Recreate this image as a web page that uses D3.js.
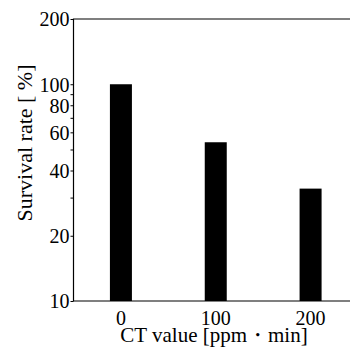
<!DOCTYPE html>
<meta charset="utf-8">
<style>
body { margin: 0; background: #fff; }
text { font-family: "Liberation Serif", "Times New Roman", serif; fill: #000; }
</style>
<svg width="350" height="349"></svg>
<script src="https://d3js.org/d3.v7.min.js"></script>
<script>
var ctValues = [0, 100, 200];
var survival = [100, 54, 33];
var majorTicks = [10, 20, 40, 60, 80, 100, 200];
var minorTicks = [30, 50, 70, 90];

var svg = d3.select("svg"),
    mLeft = 73.5, mRight = 358, mTop = 19, mBottom = 301;

var x = d3.scaleLinear().domain([-50, 250]).range([mLeft, mRight]);
var y = d3.scaleLog().domain([10, 200]).range([mBottom, mTop]);

// bars
svg.append("g")
  .selectAll("rect")
  .data(ctValues)
  .enter().append("rect")
    .attr("x", function(d) { return x(d) - 11; })
    .attr("width", 22)
    .attr("y", function(d, i) { return y(survival[i]); })
    .attr("height", function(d, i) { return mBottom - y(survival[i]); })
    .attr("fill", "#000");

// frame
svg.append("path")
    .attr("d", "M" + mRight + "," + mTop + "H" + mLeft + "V" + mBottom + "H" + mRight)
    .attr("fill", "none")
    .attr("stroke", "#000")
    .attr("stroke-width", 1.2);

// y axis
var yAxis = svg.append("g")
    .attr("transform", "translate(" + mLeft + ",0)")
    .call(d3.axisLeft(y).tickValues(majorTicks).tickFormat(d3.format("d")).tickSize(3).tickPadding(1));
yAxis.select(".domain").remove();
yAxis.selectAll("text").style("font-size", "20px").attr("dy", "0.34em");

svg.append("g")
    .attr("transform", "translate(" + mLeft + ",0)")
    .call(d3.axisLeft(y).tickValues(minorTicks).tickFormat("").tickSize(3))
    .select(".domain").remove();

// x labels
svg.append("g")
  .selectAll("text")
  .data(ctValues)
  .enter().append("text")
    .attr("x", function(d) { return x(d); })
    .attr("y", 325)
    .attr("text-anchor", "middle")
    .style("font-size", "20px")
    .text(function(d) { return d; });

svg.append("text")
    .attr("x", 214)
    .attr("y", 342)
    .attr("text-anchor", "middle")
    .style("font-size", "21px")
    .text("CT value [ppm・min]");

svg.append("text")
    .attr("transform", "translate(32,143) rotate(-90)")
    .attr("text-anchor", "middle")
    .style("font-size", "22px")
    .text("Survival rate [ %]");
</script>
